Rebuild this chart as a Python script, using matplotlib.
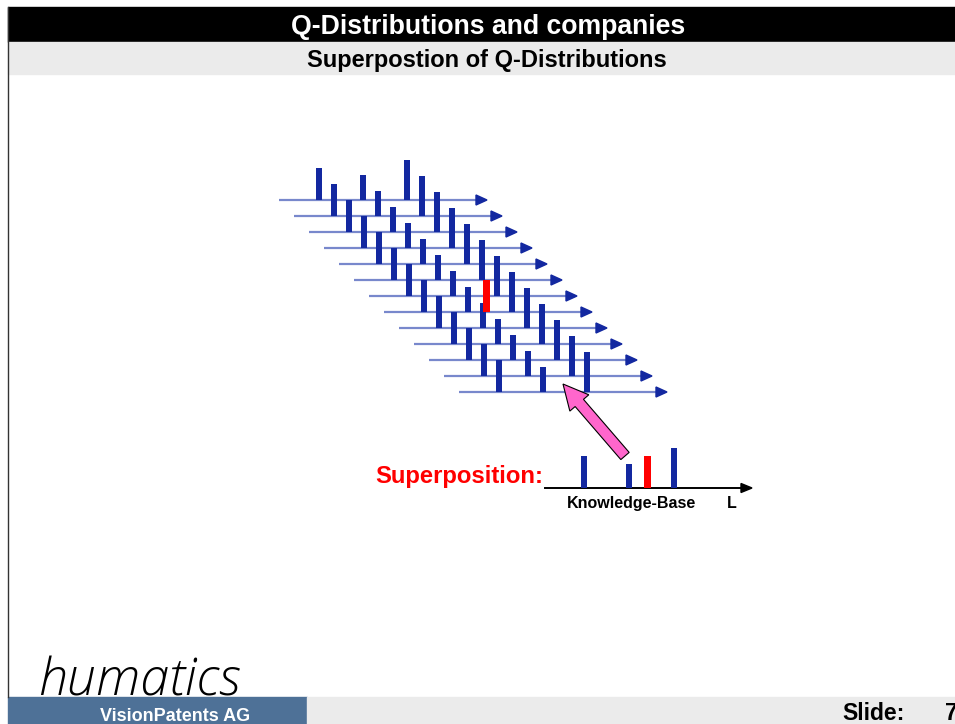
import matplotlib
matplotlib.use("Agg")
import matplotlib.pyplot as plt
from matplotlib.patches import Rectangle, Polygon, FancyArrow

# ---------------- data ----------------
title = "Q-Distributions and companies"
subtitle = "Superpostion of Q-Distributions"
n_shifts = 13                      # number of shifted Q-distributions
q_positions = [0.0, 1.0, 2.0]      # bar positions along L (units)
q_heights = [0.80, 0.62, 1.00]     # relative bar heights
red_shift = 7                      # which shifted copy carries the red bar
red_position = 1.43
red_height = 0.80
sup_positions = [0.0, 1.0, 2.0]    # superposition bars
sup_heights = [0.80, 0.60, 1.00]
sup_red_position = 1.42
sup_red_height = 0.80
sup_label = "Superposition:"
axis_label = "Knowledge-Base"
axis_letter = "L"
logo = "humatics"
company = "VisionPatents AG"
slide_label = "Slide:"
slide_no = "7"

# ---------------- style / layout ----------------
W, H = 955, 724
BAR_BLUE = "#1328A0"
LINE_BLUE = "#7888CC"
RED = "#FF0000"
PINK = "#FF66CC"
GRAY = "#EBEBEB"
FOOT_BLUE = "#4E7197"
FONT = ["Liberation Sans", "DejaVu Sans"]

fig = plt.figure(figsize=(W / 100, H / 100), dpi=100)
ax = fig.add_axes([0, 0, 1, 1])
ax.set_xlim(0, W)
ax.set_ylim(H, 0)
ax.axis("off")

# header
ax.add_patch(Rectangle((8, 7), W - 8, 35, color="black", zorder=1))
ax.add_patch(Rectangle((8, 42), W - 8, 32, color=GRAY, zorder=1))
ax.text(488, 27, title, color="white", fontsize=19.2, fontweight="bold",
        ha="center", va="center", family=FONT)
ax.text(487, 60.5, subtitle, color="black", fontsize=17, fontweight="bold",
        ha="center", va="center", family=FONT)
ax.plot([8, 8], [7, 697], color="#333333", lw=1.0, zorder=2)

# footer
ax.add_patch(Rectangle((8, 697), 299, H - 697, color=FOOT_BLUE, zorder=1))
ax.add_patch(Rectangle((307, 697), W - 307, H - 697, color=GRAY, zorder=1))
ax.text(175, 716.5, company, color="white", fontsize=13, fontweight="bold",
        ha="center", va="center", family=FONT)
ax.text(842, 713, slide_label, color="black", fontsize=16.5, fontweight="bold",
        ha="left", va="center", family=FONT)
ax.text(945, 713, slide_no, color="black", fontsize=16.5, fontweight="bold",
        ha="left", va="center", family=FONT)
ax.text(38, 696, logo, color="black", fontsize=37.4, style="italic",
        fontweight="light", ha="left", va="baseline",
        family=["Open Sans", "DejaVu Sans"])

# ---------------- shifted Q-distributions ----------------
X0, Y0 = 319, 200          # first bar origin of copy 0
DX, DY = 15, 16            # shift per copy
UX, UH = 44, 40            # pixels per L-unit, per height unit
LINE_START, LINE_END = -40, 168
BW = 6

for i in range(n_shifts):
    ox = X0 + DX * i
    y = Y0 + DY * i
    xs, xe = ox + LINE_START, ox + LINE_END
    ax.plot([xs, xe - 8], [y, y], color=LINE_BLUE, lw=1.6,
            solid_capstyle="butt", zorder=2)
    ax.add_patch(Polygon([(xe - 11, y - 5), (xe, y), (xe - 11, y + 5)],
                         closed=True, color=BAR_BLUE, zorder=3))
    xb = [ox + UX * p for p in q_positions]
    hb = [-UH * h for h in q_heights]
    ax.bar(xb, hb, width=BW, bottom=y, color=BAR_BLUE, zorder=4)
    if i == red_shift:
        ax.bar([ox + UX * red_position], [-UH * red_height], width=BW + 1,
               bottom=y, color=RED, zorder=5)

# ---------------- superposition ----------------
SX0, SY0 = 584, 488
SUX = 45
ax.plot([545, 744], [SY0, SY0], color="black", lw=1.4, zorder=2)
ax.add_patch(Polygon([(741, SY0 - 4.5), (752, SY0), (741, SY0 + 4.5)],
                     closed=True, color="black", zorder=3))
ax.bar([SX0 + SUX * p for p in sup_positions],
       [-UH * h for h in sup_heights], width=BW, bottom=SY0,
       color=BAR_BLUE, zorder=4)
ax.bar([SX0 + SUX * sup_red_position], [-UH * sup_red_height], width=BW + 1,
       bottom=SY0, color=RED, zorder=4)
ax.text(543, 477, sup_label, color=RED, fontsize=17.2, fontweight="bold",
        ha="right", va="center", family=FONT)
ax.text(631.5, 503.5, axis_label, color="black", fontsize=11.5, fontweight="bold",
        ha="center", va="center", family=FONT)
ax.text(732, 503.5, axis_letter, color="black", fontsize=11.5, fontweight="bold",
        ha="center", va="center", family=FONT)

# pink arrow from superposition towards the stack
ax.add_patch(FancyArrow(625, 456, -62, -72, width=11, head_width=25,
                        head_length=25, length_includes_head=True,
                        fc=PINK, ec="black", lw=0.8, zorder=6))

fig.savefig("out.png", dpi=100)
